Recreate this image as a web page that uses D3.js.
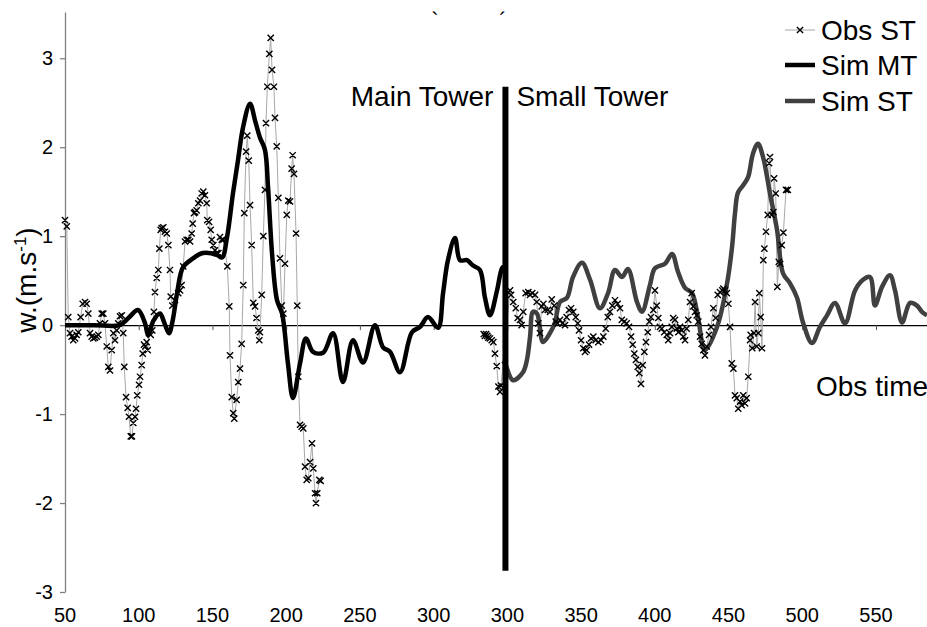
<!DOCTYPE html>
<html>
<head>
<meta charset="utf-8">
<script src="https://cdn.jsdelivr.net/npm/d3@7"></script>
<style>
  html, body { margin: 0; padding: 0; background: #fff; }
  svg { display: block; font-family: "Liberation Sans", Arial, Helvetica, sans-serif; }
</style>
</head>
<body>
<svg id="chart" width="927" height="627"></svg>
<script>
// ---------------- DATA ----------------
// Plot-axis positions (obs time, with the small-tower segment shifted by 50)
const xTickValues = [50, 100, 150, 200, 250, 300, 350, 400, 450, 500, 550, 600];
const xTickLabels = ["50", "100", "150", "200", "250", "300", "300", "350", "400", "450", "500", "550"];
const yTicks = [-3, -2, -1, 0, 1, 2, 3];

const obsTime = [50.0,51.2,52.2,53.4,54.5,55.6,56.8,57.9,59.0,60.6,62.0,63.6,64.7,65.8,67.0,68.1,69.2,70.3,71.5,72.6,73.7,74.9,76.0,77.1,78.3,79.4,80.5,81.7,82.8,83.9,85.1,86.1,87.3,88.5,89.5,90.2,91.4,92.5,93.4,94.6,95.4,96.3,97.5,98.2,99.0,100.2,100.9,102.0,102.7,103.6,104.5,105.4,106.1,107.0,108.1,109.2,110.3,111.0,112.2,113.3,114.0,114.9,115.6,116.7,117.8,119.0,120.1,121.2,121.7,122.8,124.6,126.8,128.0,129.1,130.2,131.4,132.5,133.6,134.8,135.9,136.6,137.5,138.2,139.3,140.4,141.6,142.7,143.8,144.9,146.1,146.5,147.7,148.8,149.5,150.6,151.7,152.9,154.0,155.1,156.3,157.4,160.1,161.4,161.9,163.1,164.1,164.8,166.4,167.5,168.7,169.8,170.9,171.6,172.8,173.6,174.6,175.5,176.6,177.7,178.9,179.9,181.1,181.8,182.2,183.4,184.5,185.6,186.3,187.2,188.6,189.5,190.4,191.7,192.4,193.6,194.7,195.8,197.0,198.1,199.2,200.4,201.4,202.6,203.7,204.4,205.3,206.7,207.5,208.2,209.4,210.5,211.6,212.8,213.9,215.0,216.2,217.5,218.4,219.6,220.2,221.1,222.5,223.4,
  280,
  334.0,334.8,335.6,336.4,337.1,338.2,339.4,340.5,341.6,342.8,343.9,345.0,345.7,
  351.8,352.5,354.0,355.7,357.0,358.6,359.7,360.8,362.4,364.2,365.4,366.9,368.8,369.9,371.0,372.1,373.3,374.4,375.5,377.4,378.9,380.1,381.8,382.8,384.1,385.7,387.3,389.1,390.2,391.8,393.2,394.7,396.4,397.7,398.6,400.0,401.5,402.7,403.8,405.4,406.7,408.3,409.9,411.7,413.5,415.1,416.7,418.1,419.6,421.2,423.0,424.8,426.4,427.6,429.3,430.9,432.5,433.9,435.0,436.1,437.2,438.4,439.5,440.6,441.8,442.9,444.0,445.2,446.3,447.4,449.0,450.1,451.3,452.4,453.5,454.7,456.4,458.1,459.1,460.3,461.5,462.5,463.7,464.9,466.0,467.1,468.3,469.3,470.5,471.6,472.7,473.9,475.0,476.1,477.3,478.4,479.5,480.7,481.8,482.9,484.0,485.2,486.8,488.1,489.7,491.3,492.7,494.2,495.8,496.5,497.6,498.8,499.9,501.0,502.2,503.3,504.4,505.6,506.6,507.8,508.9,510.0,511.2,512.3,513.4,514.6,515.0,516.1,517.3,518.0,519.1,520.2,520.9,521.8,522.7,523.6,524.3,525.4,526.6,527.5,528.1,529.3,530.4,530.9,532.0,533.1,534.1,535.0,536.1,537.2,539.0,540.2];
const obsW = [1.18,1.11,0.09,-0.09,-0.13,-0.17,-0.15,-0.11,-0.08,0.09,0.24,0.26,0.24,0.13,-0.09,-0.13,-0.15,-0.14,-0.13,-0.11,0.02,0.13,0.13,0.02,-0.24,-0.47,-0.51,-0.28,-0.09,-0.17,-0.06,0.02,0.10,0.11,-0.09,-0.47,-0.81,-0.93,-1.03,-1.25,-1.25,-1.10,-1.03,-0.94,-0.79,-0.67,-0.58,-0.45,-0.32,-0.22,-0.24,-0.19,-0.28,-0.09,-0.11,-0.06,0.15,0.37,0.53,0.62,0.86,1.07,1.09,1.10,1.05,1.03,0.90,0.62,0.32,0.22,0.28,0.36,0.39,0.45,0.66,0.94,0.96,0.96,0.94,1.03,1.14,1.26,1.27,1.29,1.37,1.40,1.48,1.50,1.46,1.37,1.18,1.16,1.07,0.96,0.90,0.84,0.81,0.81,0.99,0.96,0.96,0.66,0.21,-0.34,-0.81,-0.99,-1.05,-0.84,-0.64,-0.49,-0.21,0.45,1.26,1.95,2.13,1.85,1.35,0.90,0.25,0.21,0.08,-0.06,-0.17,-0.08,0.34,1.00,1.52,2.27,2.68,3.05,3.23,2.87,2.68,2.33,2.01,1.43,0.75,0.22,0.13,0.69,1.24,1.40,1.39,1.76,1.91,1.70,1.03,0.22,-0.58,-1.12,-1.14,-1.16,-1.59,-1.74,-1.72,-1.54,-1.33,-1.61,-1.89,-2.00,-1.89,-1.74,-1.75,
  null,
  -0.10,-0.12,-0.10,-0.12,-0.14,-0.15,-0.17,-0.19,-0.32,-0.46,-0.69,-0.75,-0.68,
  0.39,0.34,0.26,0.19,0.08,0.06,0.00,0.15,0.36,0.37,0.34,0.36,0.34,0.26,0.02,-0.09,0.21,0.24,0.17,0.17,0.15,0.29,0.22,0.04,0.02,0.06,0.02,0.00,0.09,0.17,0.19,0.15,0.09,0.02,-0.06,-0.17,-0.26,-0.30,-0.28,-0.22,-0.15,-0.13,-0.17,-0.19,-0.17,-0.13,-0.04,0.09,0.15,0.22,0.28,0.24,0.19,0.06,0.04,0.02,-0.02,-0.13,-0.22,-0.32,-0.39,-0.47,-0.54,-0.66,-0.45,-0.30,-0.19,-0.08,0.04,0.09,0.17,0.39,0.22,0.08,-0.02,-0.04,-0.08,-0.11,-0.17,-0.09,-0.02,0.08,0.06,-0.04,-0.08,-0.02,-0.06,-0.13,-0.17,-0.04,0.06,0.26,0.36,0.21,0.15,0.11,0.04,-0.13,-0.21,-0.28,-0.34,-0.24,-0.11,-0.02,0.19,0.08,0.34,0.37,0.39,0.41,0.39,0.36,0.24,-0.02,-0.43,-0.49,-0.79,-0.82,-0.94,-0.86,-0.90,-0.79,-0.88,-0.82,-0.58,-0.17,-0.11,-0.26,-0.09,0.26,-0.24,-0.09,0.36,0.09,-0.26,0.73,0.86,1.05,1.24,1.82,1.89,1.24,1.27,1.65,1.48,0.43,0.71,0.69,0.90,1.04,1.52,1.52];

const simMTTime = [50,70,87,93,99.5,104.3,106.3,110,114.4,117.5,120.5,123,126,130,136.8,143.6,153.1,156.5,159.9,163.9,167.3,170.7,175.5,178.9,182.2,185.6,187.7,190.4,193.8,197.2,201.2,204.6,209.4,213.4,218.2,225,231.8,238.5,245.3,252.1,260.2,265.7,270.4,277.2,285.3,290.8,296.2,303,306.4,309.7,314.5,317.9,322.6,326.7,331.4,334.8,338.2,343,346.4,348];
const simMTW    = [0,0,0,0.08,0.17,0.02,-0.11,0.05,0.13,0.02,-0.09,0.05,0.36,0.65,0.75,0.81,0.79,0.76,0.99,1.48,1.85,2.22,2.49,2.30,2.11,1.97,1.55,0.81,0.28,0.13,-0.43,-0.82,-0.43,-0.15,-0.30,-0.31,-0.09,-0.64,-0.17,-0.42,0.0,-0.25,-0.30,-0.53,-0.08,-0.02,0.09,-0.03,0.36,0.73,0.98,0.73,0.73,0.67,0.62,0.31,0.11,0.39,0.64,0.66];

const simSTTime = [347,348.4,353.8,360.6,363.3,365.4,367.4,370.1,374.2,378.9,382.3,385.7,390.5,394.5,400.6,406.1,412.8,418.3,423,427.8,431.8,437.9,441.3,446.7,450.1,456.9,461.7,465.7,470.5,475.2,479.3,484,492.2,499,502.4,504.4,506.4,509.8,513.2,516.6,520,523.4,528.1,532.9,537,541.7,546.4,550.5,556.6,562,566.8,572.2,579,585.8,591.2,596,599.3,604.1,609.5,612.9,617.7,623.1,627.8,631.2,634.6];
const simSTW    = [-0.40,-0.43,-0.62,-0.53,-0.39,-0.13,0.15,0.13,-0.19,-0.09,0.03,0.26,0.31,0.54,0.70,0.51,0.19,0.36,0.62,0.54,0.63,0.26,0.15,0.45,0.64,0.69,0.80,0.60,0.42,0.36,0.09,-0.28,-0.02,0.47,0.88,1.26,1.49,1.57,1.66,1.93,2.04,1.89,1.48,1.07,0.58,0.47,0.31,0.03,-0.20,-0.02,0.11,0.25,0.02,0.39,0.51,0.54,0.22,0.43,0.56,0.39,0.03,0.25,0.22,0.15,0.11];

const towerSplit = 348.7;          // obs-time position of Main/Small tower separator
const splitRange = [-2.76, 2.68];  // vertical extent of separator (w units)
const seriesNames = ["Obs ST", "Sim MT", "Sim ST"];

// ---------------- CHART ----------------
const svg = d3.select("#chart");
const x = d3.scaleLinear().domain([50, 634.6]).range([65, 927]);
const y = d3.scaleLinear().domain([-3, 3.52]).range([592, 12]);
const BIG = 28;

// y axis
const yAxis = svg.append("g").attr("transform", `translate(${x(50)},0)`)
  .call(d3.axisLeft(y).tickValues(yTicks).tickSize(5).tickSizeOuter(0).tickPadding(7).tickFormat(d => String(d)));
yAxis.select(".domain").attr("stroke", "#808080").attr("stroke-width", 1.3);
yAxis.selectAll(".tick line").attr("stroke", "#808080").attr("stroke-width", 1.3);
yAxis.selectAll(".tick text").attr("font-size", 20).attr("fill", "#000")
  .attr("font-family", '"Liberation Sans", Arial, sans-serif');

// x axis (along w = 0)
const xAxis = svg.append("g").attr("transform", `translate(0,${y(0)})`)
  .call(d3.axisBottom(x).tickValues(xTickValues).tickSize(5).tickSizeOuter(0).tickFormat(""));
xAxis.select(".domain").attr("stroke", "#000").attr("stroke-width", 1.2);
xAxis.selectAll(".tick line").attr("stroke", "#555").attr("stroke-width", 1);

// x tick labels at bottom
svg.append("g").selectAll("text").data(xTickValues).join("text")
  .attr("x", d => x(d)).attr("y", 622)
  .attr("text-anchor", "middle").attr("font-size", 20).attr("fill", "#000")
  .text((d, i) => xTickLabels[i]);

// y axis title
svg.append("text")
  .attr("transform", `translate(36,${280}) rotate(-90)`)
  .attr("text-anchor", "middle").attr("font-size", BIG).attr("fill", "#000")
  .call(t => {
    t.append("tspan").text("w.(m.s");
    t.append("tspan").attr("font-size", 17).attr("dy", -10).text("-1");
    t.append("tspan").attr("dy", 10).text(")");
  });

// clipped title remnants at top
svg.append("text").attr("x", 435).attr("y", 28).attr("font-size", 22).attr("text-anchor", "middle").text("`");
svg.append("text").attr("x", 503).attr("y", 28).attr("font-size", 22).attr("text-anchor", "middle").text("´");

// data rows
const obs = obsTime.map((t, i) => ({ t, w: obsW[i] }));
const simMT = simMTTime.map((t, i) => ({ t, w: simMTW[i] }));
const simST = simSTTime.map((t, i) => ({ t, w: simSTW[i] }));

const obsLine = d3.line().defined(d => d.w !== null).x(d => x(d.t)).y(d => y(d.w));
const simLine = d3.line().x(d => x(d.t)).y(d => y(d.w)).curve(d3.curveCatmullRom.alpha(0.5));

svg.append("path").datum(obs).attr("d", obsLine)
  .attr("fill", "none").attr("stroke", "#a8a8a8").attr("stroke-width", 1);

svg.append("path").datum(simMT).attr("d", simLine)
  .attr("fill", "none").attr("stroke", "#000").attr("stroke-width", 4.5).attr("stroke-linejoin", "round");
svg.append("path").datum(simST).attr("d", simLine)
  .attr("fill", "none").attr("stroke", "#404040").attr("stroke-width", 4.5).attr("stroke-linejoin", "round");

const cross = (cx, cy, s) => `M${cx - s},${cy - s}L${cx + s},${cy + s}M${cx - s},${cy + s}L${cx + s},${cy - s}`;
svg.append("path")
  .attr("d", obs.filter(d => d.w !== null).map(d => cross(x(d.t), y(d.w), 3.1)).join(""))
  .attr("fill", "none").attr("stroke", "#000").attr("stroke-width", 1.4);

// Main / Small tower separator
svg.append("line")
  .attr("x1", x(towerSplit)).attr("x2", x(towerSplit))
  .attr("y1", y(splitRange[1])).attr("y2", y(splitRange[0]))
  .attr("stroke", "#000").attr("stroke-width", 6);

svg.append("text").attr("x", x(towerSplit) - 12).attr("y", 106)
  .attr("text-anchor", "end").attr("font-size", BIG).text("Main Tower");
svg.append("text").attr("x", x(towerSplit) + 11).attr("y", 106)
  .attr("text-anchor", "start").attr("font-size", BIG).text("Small Tower");

svg.append("text").attr("x", 816).attr("y", 396).attr("font-size", BIG).text("Obs time");

// legend
const lg = svg.append("g");
const lgY = [30, 65, 101];
seriesNames.forEach((name, i) => {
  const yy = lgY[i];
  if (i === 0) {
    lg.append("line").attr("x1", 785).attr("x2", 815).attr("y1", yy).attr("y2", yy)
      .attr("stroke", "#a8a8a8").attr("stroke-width", 1);
    lg.append("path").attr("d", cross(800, yy, 3.1)).attr("stroke", "#000").attr("stroke-width", 1.4);
  } else {
    lg.append("line").attr("x1", 785).attr("x2", 815).attr("y1", yy).attr("y2", yy)
      .attr("stroke", i === 1 ? "#000" : "#404040").attr("stroke-width", 4.5);
  }
  lg.append("text").attr("x", 821).attr("y", yy + 10).attr("font-size", BIG).text(name);
});
</script>
</body>
</html>
